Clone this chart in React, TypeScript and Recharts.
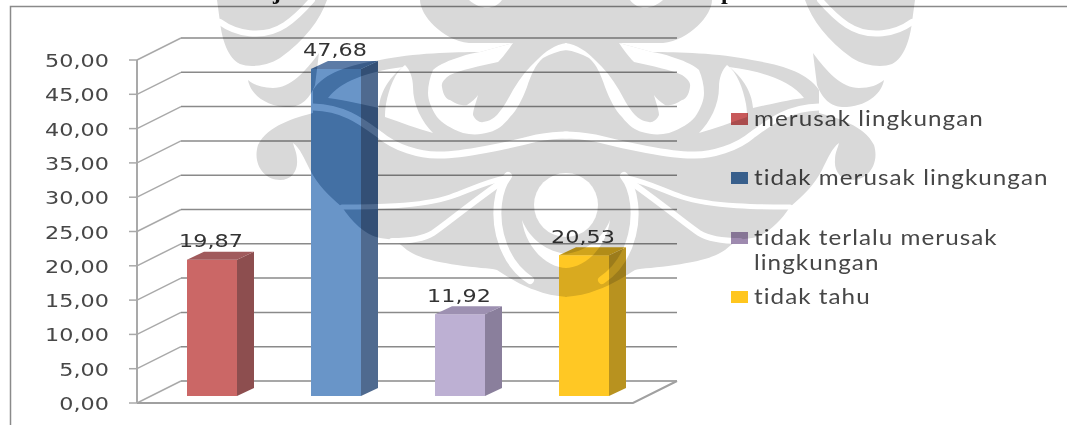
import React from 'react';
import { BarChart, Bar, XAxis, YAxis, CartesianGrid, LabelList } from 'recharts';

const categories = ['merusak lingkungan', 'tidak merusak lingkungan', 'tidak terlalu merusak lingkungan', 'tidak tahu'];
const values = [19.87, 47.68, 11.92, 20.53];
const yTicks = [0, 5, 10, 15, 20, 25, 30, 35, 40, 45, 50];

const frontColors = ['#cb6766', '#6995c8', '#bdb0d3', '#ffc824'];
const sideColors = ['#8d4e4f', '#4f6a8f', '#8a7f9c', '#b8921f'];
const topColors = ['#a05a5c', '#5c7ba6', '#9d90b1', '#d0a41c'];
const legendColors = ['#c8595a', '#4270a5', '#9e8aaf', '#ffc61e'];

const data = categories.map((name, i) => ({ name, value: values[i] }));

const fmt = (v: number) => v.toFixed(2).replace('.', ',');

// 3d look of the chart
const WALL_DX = 44;
const WALL_DY = 22;
const BAR_DX = 13;
const BAR_DY = 7;
const DEPTH_X = 17;
const DEPTH_Y = 8;

// the scan is stretched sideways, so the numbers are too
const TEXT_STRETCH = 1.24;

// watermark behind the scan, left half only, the right half is mirrored around x=566
const GRAY_PATHS = [
  'M217,0 L327,0 C320,20 305,40 280,58 C268,66 250,68 240,64 C228,58 222,40 220,22 Z',
  'M319,53 C305,72 290,88 273,88 C262,88 254,85 248,80 C250,92 262,105 285,107 C297,108 308,103 315,85 Z',
  'M567,0 L420,0 C420,15 442,40 469,43 L513,43 L480,52 C455,52 413,53 380,60 C350,65 325,72 313,90 L313,113 C295,118 268,125 258,145 C252,165 265,180 280,180 C292,180 298,170 297,160 C297,152 294,148 293,143 C300,148 304,158 310,170 C318,185 328,195 342,207 C352,222 365,235 380,238 L395,240 L407,250 C415,255 423,260 457,265 C475,268 490,268 497,270 C505,275 520,285 535,290 C545,294 555,296 567,297 Z',
];
const WHITE_STROKES = [
  { d: 'M220,22 C235,33 262,40 285,25 C297,17 305,8 312,0', w: 6 },
  { d: 'M313,107 C345,108 362,122 380,135 C395,148 420,155 437,155 C460,156 510,145 537,138 C548,136 558,135 567,135', w: 7 },
  { d: 'M342,207 C370,207 420,207 450,197 C470,190 485,182 505,178', w: 5 },
  { d: 'M392,241 C410,241 425,238 433,233 C445,225 465,208 500,183', w: 6 },
  { d: 'M508,176 C497,190 495,215 500,235 C505,255 515,270 530,280', w: 8 },
];
const WHITE_FILLS = [
  // leaf on the blue bar
  'M328,98 C340,82 365,72 403,67 C392,75 380,90 379,108 C365,105 345,100 328,98 Z',
  // second leaf
  'M405,65 C395,72 389,88 386,104 C385,110 385,114 385,117 C400,122 418,129 433,133 C422,122 413,105 413,87 C413,78 410,70 405,65 Z',
  // big hook ending in the arch at the top
  'M513,43 C505,55 500,60 498,62 C480,66 460,70 450,75 C444,79 441,83 442,87 C443,95 447,100 450,100 C457,105 465,106 467,105 C472,102 476,98 478,95 C476,103 473,110 473,115 C475,120 480,123 483,122 C490,121 494,118 497,115 C505,106 509,97 513,90 C520,78 528,68 537,60 C545,52 555,44 567,43 L567,50 C558,51 550,54 543,58 C535,65 531,75 527,87 C522,100 517,110 510,117 C503,126 497,130 490,132 C480,135 472,135 463,133 C450,128 443,124 437,117 C431,108 428,100 428,93 C428,85 430,77 433,70 C440,64 450,60 460,57 C468,54 474,53 480,52 Z',
  // inner curl under the circle
  'M522,220 C525,245 545,268 567,268 L567,254 C548,252 530,240 522,220 Z',
  'M469,0 C480,10 495,10 502,0 Z',
];

function Watermark({ color }: { color: string }) {
  const mirror = 'translate(1132,0) scale(-1,1)';
  const gray = GRAY_PATHS.map((d, i) => <path key={i} d={d} fill={color} />);
  const white = (
    <>
      {WHITE_FILLS.map((d, i) => <path key={i} d={d} fill="#fff" />)}
      {WHITE_STROKES.map((s, i) => (
        <path key={i} d={s.d} fill="none" stroke="#fff" strokeWidth={s.w} strokeLinecap="round" />
      ))}
    </>
  );
  return (
    <>
      <g>{gray}</g>
      <g transform={mirror}>{gray}</g>
      <g>{white}</g>
      <g transform={mirror}>{white}</g>
      <circle cx={566} cy={205} r={32} fill="#fff" />
    </>
  );
}

// grid line with the slanted part on the side wall
function GridLine(props: any) {
  const { x1, x2, y1 } = props;
  const isFloor = y1 > 400;
  return (
    <g fill="none">
      <path d={`M${x1},${y1} L${x1 + WALL_DX},${y1 - WALL_DY}`} stroke="#a9a9a9" strokeWidth={1.5} />
      <path d={`M${x1 + WALL_DX},${y1 - WALL_DY} L${x2 + WALL_DX},${y1 - WALL_DY}`} stroke="#8a8a8a" strokeWidth={1.5} />
      {isFloor && (
        <path d={`M${x1},${y1} L${x2},${y1} L${x2 + WALL_DX},${y1 - WALL_DY}`} stroke="#a0a0a0" strokeWidth={2} />
      )}
    </g>
  );
}

function Bar3D(props: any) {
  const { x, y, width, height, index } = props;
  const l = x + BAR_DX;
  const t = y - BAR_DY;
  const r = l + width;
  const b = t + height;
  const top = `${l},${t} ${l + DEPTH_X},${t - DEPTH_Y} ${r + DEPTH_X},${t - DEPTH_Y} ${r},${t}`;
  const side = `${r},${t} ${r + DEPTH_X},${t - DEPTH_Y} ${r + DEPTH_X},${b - DEPTH_Y} ${r},${b}`;
  const outline = `${l},${b} ${l},${t} ${l + DEPTH_X},${t - DEPTH_Y} ${r + DEPTH_X},${t - DEPTH_Y} ${r + DEPTH_X},${b - DEPTH_Y} ${r},${b}`;
  return (
    <g>
      <rect x={l} y={t} width={width} height={height} fill={frontColors[index]} />
      <polygon points={side} fill={sideColors[index]} />
      <polygon points={top} fill={topColors[index]} />
      {index === 1 && (
        <>
          <clipPath id="blue-clip"><polygon points={outline} /></clipPath>
          <g clipPath="url(#blue-clip)" style={{ mixBlendMode: 'multiply' }}>
            <Watermark color="#bde0f7" />
          </g>
        </>
      )}
    </g>
  );
}

function YTick(props: any) {
  const { x, y, payload } = props;
  return (
    <text
      transform={`translate(${x},${y + 7}) scale(${TEXT_STRETCH},1)`}
      textAnchor="end"
      fill="#474747"
      fontFamily="DejaVu Sans"
      fontSize={18}
    >
      {fmt(payload.value)}
    </text>
  );
}

function BarValue(props: any) {
  const { x, y, width, value } = props;
  return (
    <text
      transform={`translate(${x + width / 2 + BAR_DX - 1},${y - 19.5}) scale(${TEXT_STRETCH},1)`}
      textAnchor="middle"
      fill="#333"
      fontFamily="DejaVu Sans"
      fontSize={18}
    >
      {fmt(value)}
    </text>
  );
}

function LegendBox() {
  const rows = [
    { i: 0, top: 105, lines: ['merusak lingkungan'] },
    { i: 1, top: 164, lines: ['tidak merusak lingkungan'] },
    { i: 2, top: 224, lines: ['tidak terlalu merusak', 'lingkungan'] },
    { i: 3, top: 283, lines: ['tidak tahu'] },
  ];
  return (
    <div style={{ position: 'absolute', left: 731, top: 0, fontFamily: 'Lato', fontSize: 22, letterSpacing: 0.95, color: '#474747', lineHeight: '25px' }}>
      {rows.map((row) => (
        <div key={row.i} style={{ position: 'absolute', left: 0, top: row.top, whiteSpace: 'nowrap' }}>
          <span style={{ position: 'absolute', left: 0, top: 8, width: 17, height: 12, background: legendColors[row.i] }} />
          <div style={{ marginLeft: 23, transform: 'scaleX(1.1)', transformOrigin: 'left' }}>
            {row.lines.map((t) => <div key={t}>{t}</div>)}
          </div>
        </div>
      ))}
    </div>
  );
}

export default function App() {
  return (
    <div style={{ position: 'absolute', left: 0, top: 0, width: 1067, height: 425, overflow: 'hidden', background: '#fff', filter: 'blur(0.45px)' }}>
      <svg width={1067} height={425} style={{ position: 'absolute', left: 0, top: 0 }}>
        <path d="M10.5,425 L10.5,6.5 L1067,6.5" fill="none" stroke="#8a8a8a" strokeWidth={1.5} />
        <g fontFamily="Liberation Serif" fontWeight="bold" fontSize={24} fill="#111">
          <text x={273} y={-1}>j</text>
          <text x={721} y={-1}>p</text>
        </g>
      </svg>
      <BarChart
        width={1067}
        height={425}
        data={data}
        margin={{ top: 60, right: 434, bottom: 22, left: 77 }}
        barSize={50}
        style={{ position: 'absolute', left: 0, top: 0 }}
      >
        <CartesianGrid vertical={false} horizontal={(p: any) => <GridLine key={p.key} {...p} />} />
        <XAxis dataKey="name" hide />
        <YAxis
          width={60}
          domain={[0, 50]}
          ticks={yTicks}
          interval={0}
          tickSize={8}
          tickMargin={20}
          axisLine={{ stroke: '#a9a9a9', strokeWidth: 2 }}
          tickLine={{ stroke: '#a9a9a9', strokeWidth: 1.5 }}
          tick={<YTick />}
        />
        <Bar dataKey="value" shape={<Bar3D />} isAnimationActive={false}>
          <LabelList dataKey="value" content={<BarValue />} />
        </Bar>
      </BarChart>
      <LegendBox />
      <svg width={1067} height={425} style={{ position: 'absolute', left: 0, top: 0, mixBlendMode: 'multiply', pointerEvents: 'none' }}>
        <Watermark color="#d9d9d9" />
      </svg>
    </div>
  );
}
